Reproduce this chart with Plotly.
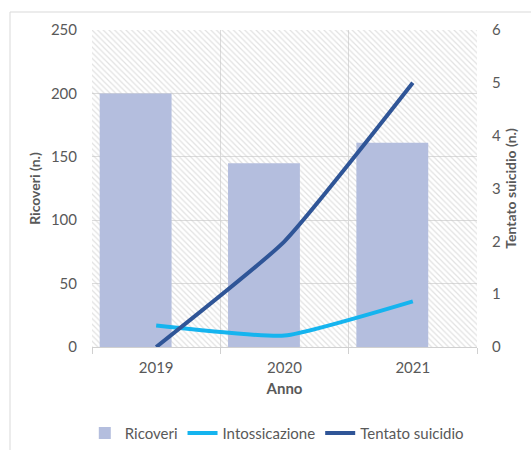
import plotly.graph_objects as go

years = ["2019", "2020", "2021"]
ricoveri = [200, 145, 161]
intossicazione = [17, 9, 36]
tentato_suicidio = [0, 2, 5]

xpos = list(range(len(years)))
FONT = "Lato"
GREY = "#595959"

fig = go.Figure()

# hatched plot-area background (decoration)
fig.add_trace(go.Bar(
    x=[(len(years) - 1) / 2], y=[250], width=[len(years)],
    marker=dict(color="rgba(0,0,0,0)", line_width=0,
                pattern=dict(shape="\\", fgcolor="#c4c4c4", bgcolor="rgba(0,0,0,0)",
                             size=4, solidity=0.3)),
    showlegend=False, hoverinfo="skip", yaxis="y"))

fig.add_trace(go.Bar(
    x=xpos, y=ricoveri, name="Ricoveri", width=0.56, offset=-0.44,
    marker=dict(color="#b4bede", line_width=0), yaxis="y"))

fig.add_trace(go.Scatter(
    x=xpos, y=intossicazione, name="Intossicazione", mode="lines",
    line=dict(color="#15b4ef", width=4, shape="spline", smoothing=0.45), yaxis="y"))

fig.add_trace(go.Scatter(
    x=xpos, y=tentato_suicidio, name="Tentato suicidio", mode="lines",
    line=dict(color="#2f5597", width=4, shape="spline", smoothing=0.45), yaxis="y2"))

fig.update_layout(
    width=531, height=450,
    margin=dict(l=92, r=54, t=30, b=103, autoexpand=False),
    paper_bgcolor="white", plot_bgcolor="white",
    barmode="overlay",
    font=dict(family=FONT, color=GREY, size=14),
    xaxis=dict(
        automargin=False,
        range=[-0.5, len(years) - 0.5], tickvals=xpos, ticktext=years,
        showgrid=False, zeroline=False, showline=True, linecolor="#d0d0d0", linewidth=1,
        ticks="", ticklabelstandoff=7, tickfont=dict(size=15, color=GREY),
        minor=dict(tickvals=[i - 0.5 for i in range(len(years) + 1)], ticks="outside",
                   ticklen=6, tickcolor="#d0d0d0", showgrid=True, gridcolor="#dcdcdc", gridwidth=1),
        title=dict(text="<b>Anno</b>", font=dict(size=15, color=GREY), standoff=8),
    ),
    yaxis=dict(
        automargin=False,
        range=[0, 250], dtick=50, showgrid=True, gridcolor="#dcdcdc", gridwidth=1,
        zeroline=False, showline=False, ticks="", ticklabelstandoff=14,
        tickfont=dict(size=15, color=GREY),
        title=dict(text="<b>Ricoveri (n.)</b>", font=dict(size=14, color=GREY), standoff=6),
    ),
    yaxis2=dict(
        automargin=False,
        range=[0, 6], dtick=1, overlaying="y", side="right", showgrid=False,
        zeroline=False, showline=False, ticks="", ticklabelstandoff=14,
        tickfont=dict(size=15, color=GREY),
        title=dict(text="<b>Tentato suicidio (n.)</b>", font=dict(size=14, color=GREY), standoff=6),
    ),
    legend=dict(orientation="h", x=0.48, xanchor="center", y=-0.272, yanchor="middle",
                font=dict(size=15, color=GREY), traceorder="normal"),
    shapes=[dict(type="rect", xref="paper", yref="paper",
                 x0=(10 - 92) / 385, x1=(540 - 92) / 385,
                 y0=(347 - 460) / 317, y1=(347 - 12) / 317,
                 line=dict(color="#d9d9d9", width=1), fillcolor="rgba(0,0,0,0)", layer="below")],
)

fig.write_html("out.html")
